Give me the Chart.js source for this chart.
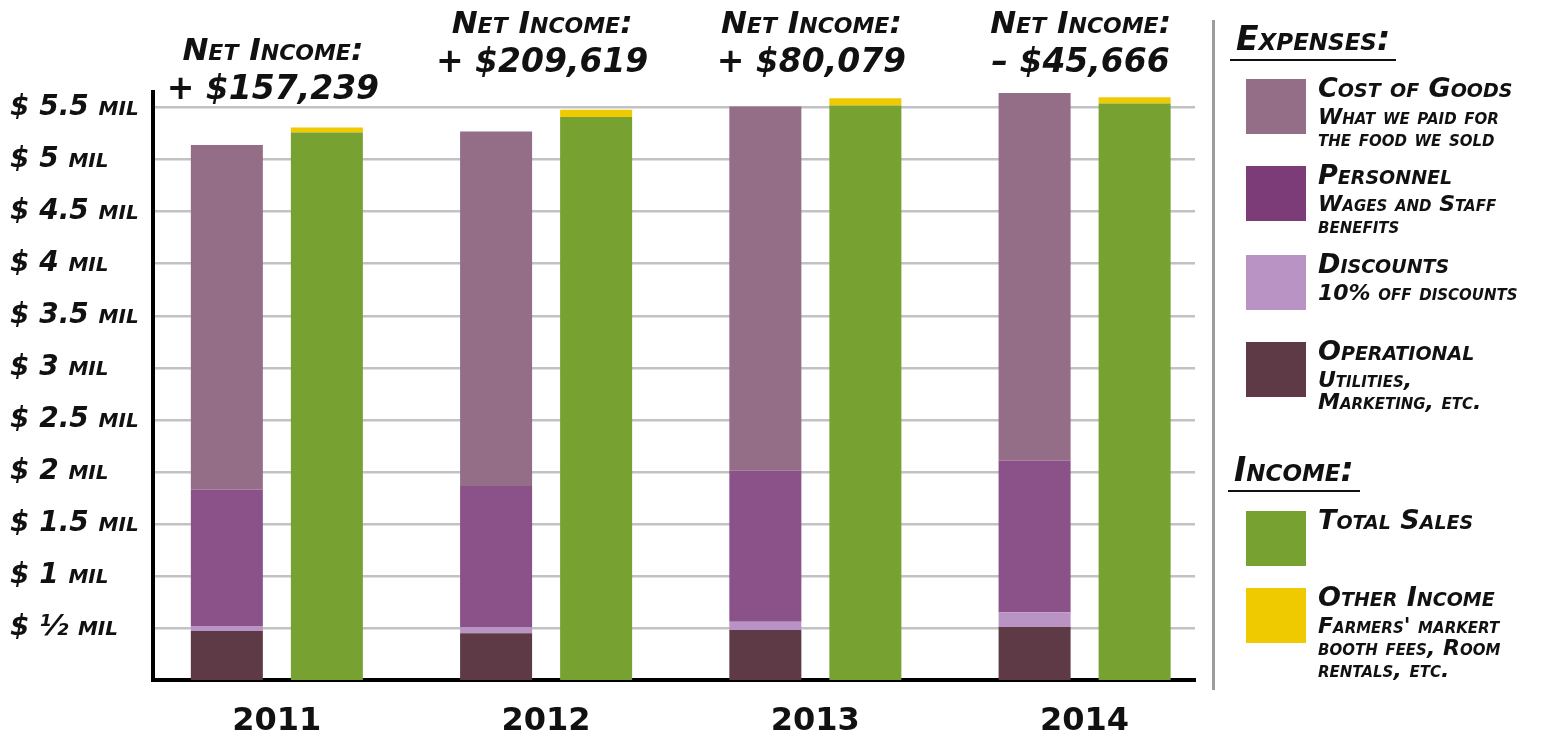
<!DOCTYPE html>
<html>
<head>
<meta charset="utf-8">
<script src="https://cdn.jsdelivr.net/npm/chart.js@4"></script>
<style>
  body { margin: 0; background: #fff; }
  #wrap { position: relative; width: 1556px; height: 735px; }
  .hand { font-family: "DejaVu Sans", sans-serif; font-weight: bold; font-style: italic; font-variant: small-caps; color: #111; position: absolute; white-space: nowrap; }
  .head { font-size: 33px; line-height: 36px; border-bottom: 2px solid #111; padding: 0 6px 2px 6px; }
  .name { font-size: 27px; line-height: 28px; }
  .sub { font-size: 22px; line-height: 22px; }
  .sw { position: absolute; width: 60px; height: 55px; left: 1246px; }
</style>
</head>
<body>
<div id="wrap">
  <canvas id="chart"></canvas>
  <div id="legend"></div>
</div>
<script>
// Years shown on the x axis
const years = ['2011', '2012', '2013', '2014'];

// Expenses per year, in millions of dollars (stacked bottom to top)
const operational = [0.47, 0.45, 0.48, 0.51];
const discounts = [0.05, 0.06, 0.08, 0.14];
const personnel = [1.31, 1.355, 1.45, 1.46];
const costOfGoods = [3.31, 3.405, 3.50, 3.53];

// Income per year, in millions of dollars
const totalSales = [5.26, 5.41, 5.52, 5.54];
const otherIncome = [0.05, 0.07, 0.07, 0.06];

// Net income text above each year
const netIncome = ['+ $157,239', '+ $209,619', '+ $80,079', '– $45,666'];

// Y axis ticks
const yTickValues = [0.5, 1, 1.5, 2, 2.5, 3, 3.5, 4, 4.5, 5, 5.5];
const yTickLabels = ['$ ½ mil', '$ 1 mil', '$ 1.5 mil', '$ 2 mil', '$ 2.5 mil', '$ 3 mil',
                     '$ 3.5 mil', '$ 4 mil', '$ 4.5 mil', '$ 5 mil', '$ 5.5 mil'];

// Colours
const colOperational = '#5e3a47';
const colDiscounts = '#b893c3';
const colPersonnel = '#8a5288';
const colCost = '#946d86';
const colSales = '#77a232';
const colOther = '#f0ca00';

const handFont = '"DejaVu Sans", sans-serif';

// Legend on the right, plain HTML
const legendItems = [
  { name: 'Cost of Goods', sub: ['What we paid for', 'the food we sold'], color: colCost, top: 79 },
  { name: 'Personnel', sub: ['Wages and Staff', 'benefits'], color: '#7b3c78', top: 166 },
  { name: 'Discounts', sub: ['10% off discounts'], color: colDiscounts, top: 255 },
  { name: 'Operational', sub: ['Utilities,', 'Marketing, etc.'], color: colOperational, top: 342 },
  { name: 'Total Sales', sub: [], color: colSales, top: 511 },
  { name: 'Other Income', sub: ["Farmers' markert", 'booth fees, Room', 'rentals, etc.'], color: colOther, top: 588 }
];

function buildLegend() {
  const lg = document.getElementById('legend');
  let html = '<div style="position:absolute;left:1212px;top:20px;width:3px;height:670px;background:#9c9c9c"></div>';
  html += '<div class="hand head" style="left:1230px;top:21px">Expenses:</div>';
  html += '<div class="hand head" style="left:1228px;top:452px">Income:</div>';
  legendItems.forEach(item => {
    html += `<div class="hand name" style="left:1318px;top:${item.top - 5}px">${item.name}</div>`;
    html += `<div class="sw" style="top:${item.top}px;background:${item.color}"></div>`;
    item.sub.forEach((line, i) => {
      html += `<div class="hand sub" style="left:1318px;top:${item.top + 27 + i * 22}px">${line}</div>`;
    });
  });
  lg.innerHTML = html;
}
buildLegend();

// Draws the "Net Income" headings above each pair of bars
const netIncomePlugin = {
  id: 'netIncome',
  afterDraw(chart) {
    const ctx = chart.ctx;
    const xs = chart.scales.x;
    ctx.save();
    ctx.fillStyle = '#111';
    ctx.textAlign = 'center';
    ctx.textBaseline = 'middle';
    netIncome.forEach((txt, i) => {
      const x = xs.getPixelForValue(i) - 4;
      const drop = i === 0 ? 27 : 0; // first heading sits lower
      ctx.font = 'italic small-caps bold 31px ' + handFont;
      ctx.fillText('Net Income:', x, 25 + drop);
      ctx.font = 'italic bold 33px ' + handFont;
      ctx.fillText(txt, x, 63 + drop);
    });
    ctx.restore();
  }
};

const ctx = document.getElementById('chart').getContext('2d');
new Chart(ctx, {
  type: 'bar',
  data: {
    labels: years.map((_, i) => i),
    datasets: [
      { label: 'Operational', data: operational, backgroundColor: colOperational, stack: 'exp' },
      { label: 'Discounts', data: discounts, backgroundColor: colDiscounts, stack: 'exp' },
      { label: 'Personnel', data: personnel, backgroundColor: colPersonnel, stack: 'exp' },
      { label: 'Cost of Goods', data: costOfGoods, backgroundColor: colCost, stack: 'exp' },
      { label: 'Total Sales', data: totalSales, backgroundColor: colSales, stack: 'inc' },
      { label: 'Other Income', data: otherIncome, backgroundColor: colOther, stack: 'inc' }
    ]
  },
  options: {
    responsive: true,
    maintainAspectRatio: false,
    animation: false,
    categoryPercentage: 0.743,
    barPercentage: 0.72,
    layout: { padding: { top: 92, right: 361, left: 10, bottom: 0 } },
    plugins: { legend: { display: false }, tooltip: { enabled: false } },
    scales: {
      x: {
        type: 'linear',
        offset: false,
        bounds: 'data',
        stacked: true,
        min: -0.46,
        max: 3.41,
        afterBuildTicks: s => { s.ticks = years.map((_, i) => ({ value: i })); },
        afterFit: s => { s.height = 55; },
        grid: { display: false },
        border: { color: '#000', width: 4 },
        ticks: {
          padding: 14,
          color: '#111',
          font: { family: handFont, size: 32, weight: 'bold' },
          callback: v => years[v]
        }
      },
      y: {
        stacked: true,
        min: 0,
        max: 5.65,
        afterBuildTicks: s => { s.ticks = yTickValues.map(v => ({ value: v })); },
        afterFit: s => { s.width = 143; },
        grid: { color: '#c2c2c2', lineWidth: 2.5, drawTicks: false },
        border: { color: '#000', width: 4 },
        ticks: {
          crossAlign: 'far',
          color: '#111',
          font: { family: handFont, size: 28, weight: 'small-caps bold', style: 'italic' },
          callback: (v, i) => yTickLabels[i]
        }
      }
    }
  },
  plugins: [netIncomePlugin]
});
</script>
</body>
</html>
